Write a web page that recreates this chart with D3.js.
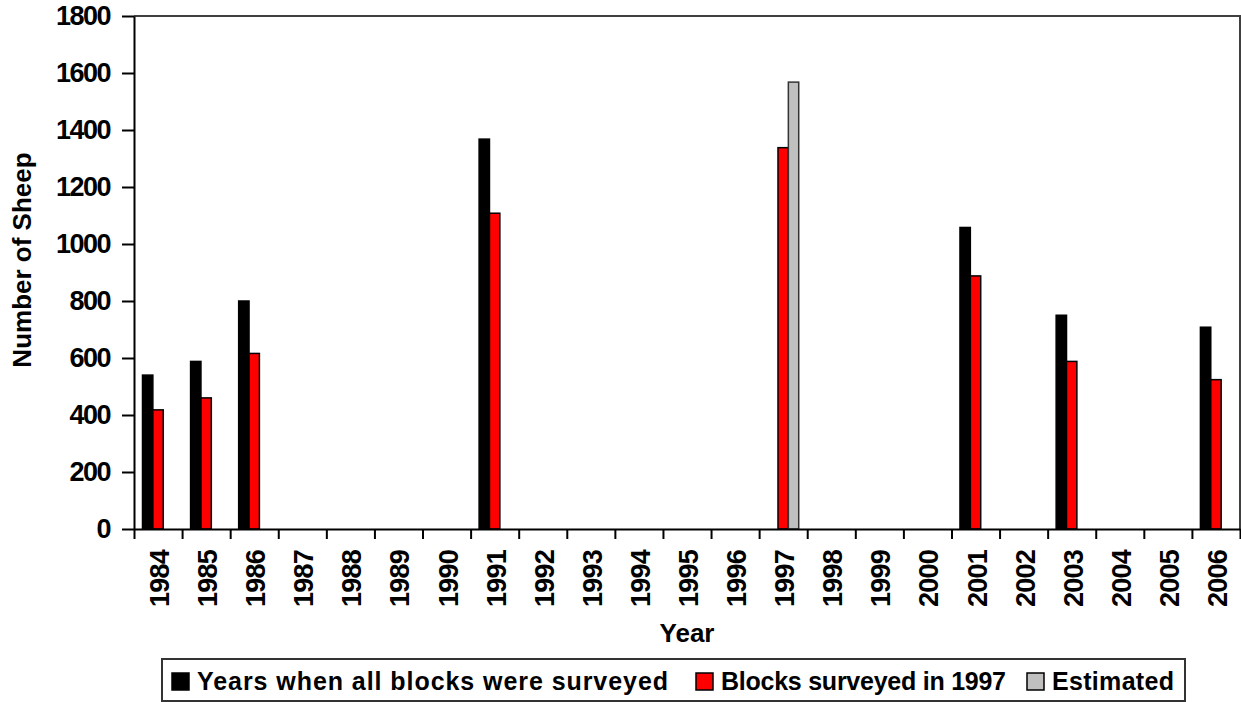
<!DOCTYPE html>
<html>
<head>
<meta charset="utf-8">
<script src="https://cdn.jsdelivr.net/npm/d3@7"></script>
<style>
  body { margin: 0; background: #fff; }
  svg { display: block; font-family: Arial, "Liberation Sans", sans-serif; font-weight: bold; }
</style>
</head>
<body>
<div id="chart"></div>
<script>
// chart values
const years = ['1984','1985','1986','1987','1988','1989','1990','1991','1992','1993','1994','1995',
  '1996','1997','1998','1999','2000','2001','2002','2003','2004','2005','2006'];
const seriesNames = ['Years when all blocks were surveyed', 'Blocks surveyed in 1997', 'Estimated'];
const seriesColors = ['#000000', '#ff0000', '#c0c0c0'];
const allBlocks = [540, 588, 800, null, null, null, null, 1368, null, null, null, null,
  null, null, null, null, null, 1058, null, 750, null, null, 708];
const blocks1997 = [418, 460, 616, null, null, null, null, 1108, null, null, null, null,
  null, 1338, null, null, null, 888, null, 588, null, null, 524];
const estimated = [null, null, null, null, null, null, null, null, null, null, null, null,
  null, 1568, null, null, null, null, null, null, null, null, null];
const yTicks = [0, 200, 400, 600, 800, 1000, 1200, 1400, 1600, 1800];

const width = 1241;
const height = 702;
const plot = { left: 134, right: 1240, top: 16, bottom: 529 };

const svg = d3.select('#chart').append('svg')
  .attr('width', width).attr('height', height);

const xScale = d3.scaleBand().domain(years).range([plot.left, plot.right]).padding(0);
const xIdx = d3.scaleLinear().domain([0, years.length]).range([plot.left, plot.right]);
const xInner = d3.scaleBand().domain(d3.range(3)).range([0, xScale.bandwidth()])
  .paddingInner(0).paddingOuter(0.82);
const yScale = d3.scaleLinear().domain([0, 1800]).range([plot.bottom, plot.top]);

// frame top and right
svg.append('path')
  .attr('d', `M${plot.left},${plot.top}H${plot.right}V${plot.bottom}`)
  .attr('fill', 'none').attr('stroke', '#404040').attr('stroke-width', 2);

// bars
const allSeries = [allBlocks, blocks1997, estimated];
allSeries.forEach((vals, si) => {
  const rows = years.map((y, i) => ({ year: y, v: vals[i] })).filter(d => d.v != null);
  svg.append('g').selectAll('rect')
    .data(rows)
    .join('rect')
    .attr('x', d => xScale(d.year) + xInner(si))
    .attr('y', d => yScale(d.v))
    .attr('width', xInner.bandwidth())
    .attr('height', d => yScale(0) - yScale(d.v))
    .attr('fill', seriesColors[si])
    .attr('stroke', si == 2 ? '#333' : '#000')
    .attr('stroke-width', 1.5);
});

// y axis
const yAxis = d3.axisLeft(yScale).tickValues(yTicks).tickSize(12).tickPadding(12)
  .tickSizeOuter(0).tickFormat(d3.format('d'));
const gy = svg.append('g').attr('transform', `translate(${plot.left},0)`).call(yAxis);
gy.selectAll('line, path').attr('stroke', '#000').attr('stroke-width', 2);
gy.selectAll('text').attr('font-size', 27).attr('font-weight', 'bold')
  .attr('font-family', 'Arial, "Liberation Sans", sans-serif').attr('fill', '#000')
  .attr('letter-spacing', -1.5);

// x axis, ticks on category boundaries
const xAxis = d3.axisBottom(xIdx).tickValues(d3.range(years.length + 1)).tickSize(10)
  .tickFormat('').tickSizeOuter(0);
const gx = svg.append('g').attr('transform', `translate(0,${plot.bottom})`).call(xAxis);
gx.selectAll('line, path').attr('stroke', '#000').attr('stroke-width', 2);

svg.append('g').selectAll('text')
  .data(years)
  .join('text')
  .attr('transform', d => `translate(${xScale(d) + xScale.bandwidth() / 2 + 11},${plot.bottom + 21}) rotate(-90)`)
  .attr('text-anchor', 'end')
  .attr('font-size', 27)
  .attr('letter-spacing', -0.8)
  .text(d => d);

// axis titles
svg.append('text')
  .attr('x', 687).attr('y', 642)
  .attr('text-anchor', 'middle').attr('font-size', 26)
  .text('Year');
svg.append('text')
  .attr('transform', `translate(31,260) rotate(-90)`)
  .attr('text-anchor', 'middle').attr('font-size', 26)
  .text('Number of Sheep');

// legend
const legend = svg.append('g');
legend.append('rect')
  .attr('x', 162).attr('y', 659).attr('width', 1023).attr('height', 42)
  .attr('fill', '#fff').attr('stroke', '#333').attr('stroke-width', 2);
const legendX = [172, 696, 1027];
const legendTextW = [471, 285, 122];
seriesNames.forEach((name, i) => {
  legend.append('rect')
    .attr('x', legendX[i]).attr('y', 673).attr('width', 17).attr('height', 17)
    .attr('fill', seriesColors[i]).attr('stroke', '#000').attr('stroke-width', 1.5);
  legend.append('text')
    .attr('x', legendX[i] + 25).attr('y', 690)
    .attr('font-size', 25)
    .attr('textLength', legendTextW[i])
    .attr('lengthAdjust', 'spacing')
    .text(name);
});
</script>
</body>
</html>
